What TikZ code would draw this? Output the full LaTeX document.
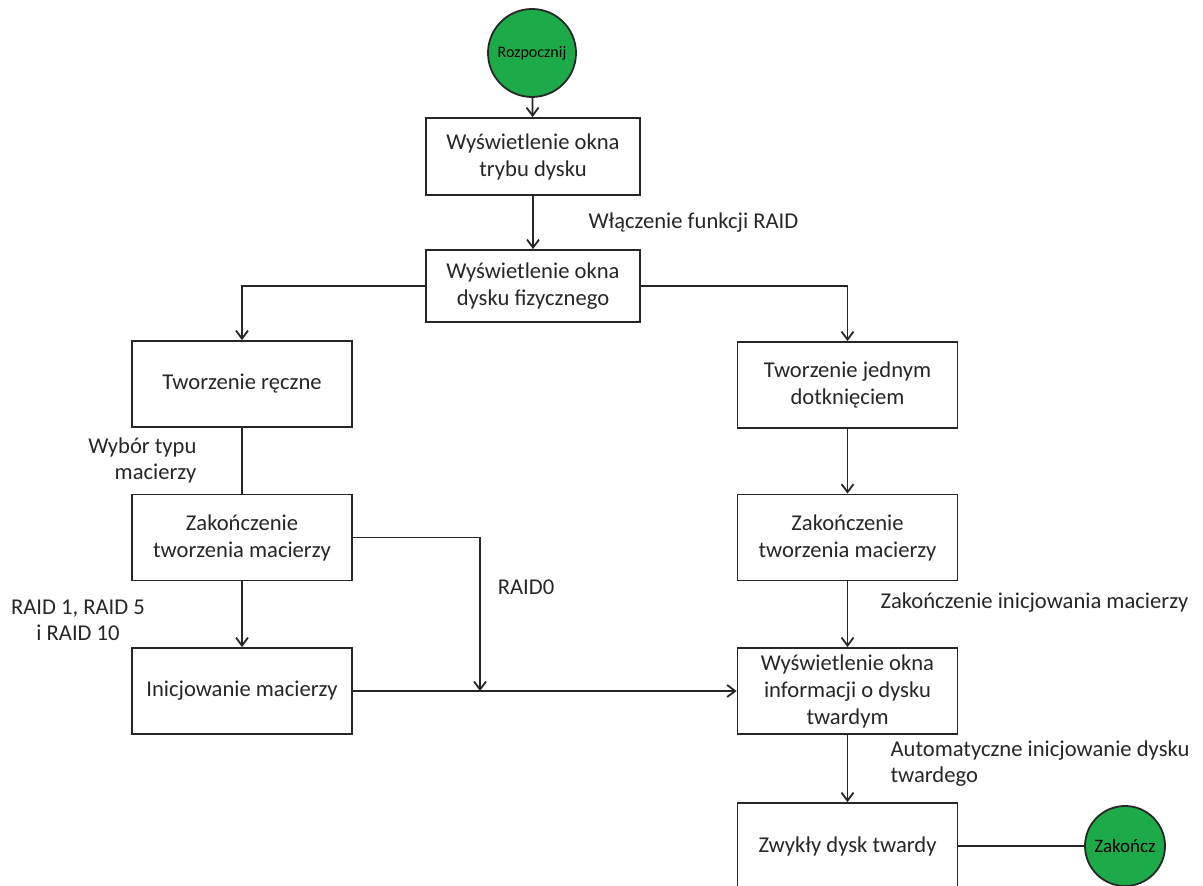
\documentclass[tikz,border=0pt]{standalone}
\usepackage{fontspec}
\setmainfont{Carlito}
\usetikzlibrary{arrows.meta,positioning}
\definecolor{startgreen}{HTML}{1DAB4A}
\definecolor{inkdark}{HTML}{262626}

\begin{document}
\begin{tikzpicture}[x=0.5pt, y=-0.5pt, >={Straight Barb[length=4pt, width=6pt]}, line width=0.9pt,
  stepbox/.style={draw=inkdark, fill=white, align=center, minimum width=110pt, minimum height=43pt, inner sep=2pt, font=\fontsize{11.3}{13.5}\selectfont, text=inkdark},
  endpt/.style={circle, draw=inkdark, fill=startgreen, inner sep=0pt, text=black},
  lab/.style={font=\fontsize{11.3}{13}\selectfont, text=inkdark}]
\useasboundingbox (0,0) rectangle (1203,886);
\clip (0,0) rectangle (1203,886);
\node[endpt, minimum size=44pt, font=\fontsize{8}{9}\selectfont] (start) at (532,53) {Rozpocznij};
\node[stepbox, minimum width=107pt, minimum height=38.5pt] (mode) at (533,156.5) {Wyświetlenie okna\\trybu dysku};
\node[stepbox, minimum width=107pt, minimum height=36pt] (phys) at (533,286) {Wyświetlenie okna\\dysku fizycznego};
\node[stepbox] (manual) at (242,384) {Tworzenie ręczne};
\node[stepbox] (doneL) at (242,537.5) {Zakończenie\\tworzenia macierzy};
\node[stepbox] (init) at (242,691) {Inicjowanie macierzy};
\node[stepbox] (onetouch) at (847.5,385) {Tworzenie jednym\\dotknięciem};
\node[stepbox] (doneR) at (847.5,537.5) {Zakończenie\\tworzenia macierzy};
\node[stepbox] (info) at (847.5,691) {Wyświetlenie okna\\informacji o dysku\\twardym};
\node[stepbox] (plain) at (847.5,846) {Zwykły dysk twardy};
\node[endpt, minimum size=40pt, font=\fontsize{9.5}{11}\selectfont] (stop) at (1125,846) {Zakończ};
\coordinate (raid0) at (480,691);
\draw[->, inkdark] (start) -- (mode);
\draw[->, inkdark] (mode) -- (phys) node[lab, midway, right=24pt] {Włączenie funkcji RAID};
\draw[->, inkdark] (phys.west) -| (manual.north);
\draw[->, inkdark] (phys.east) -| (onetouch.north);
\draw[inkdark] (manual) -- (doneL);
\node[lab, align=right, anchor=east] (typ) at (204,460) {Wybór typu\\macierzy};
\draw[->, inkdark] (doneL) -- (init);
\node[lab, align=center] (raidlist) at (78,620) {RAID 1, RAID 5\\i RAID 10};
\draw[->, inkdark] (doneL.east) -| (raid0);
\node[lab] (r0) at (526,587) {RAID0};
\draw[->, inkdark] (init) -- (info);
\draw[->, inkdark] (onetouch) -- (doneR);
\draw[->, inkdark] (doneR) -- (info);
\node[lab, anchor=west] (finit) at (873,603) {Zakończenie inicjowania macierzy};
\draw[->, inkdark] (info) -- (plain);
\node[lab, align=left, anchor=west] (auto) at (883,764) {Automatyczne inicjowanie dysku\\twardego};
\draw[inkdark] (plain) -- (stop);
\end{tikzpicture}
\end{document}
